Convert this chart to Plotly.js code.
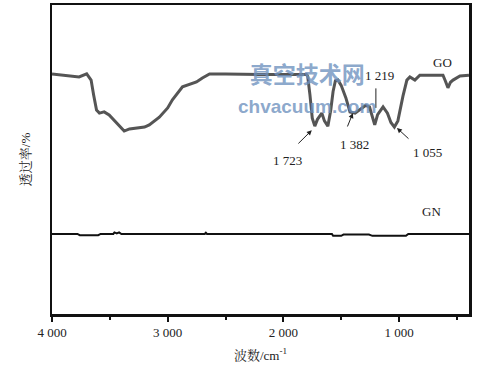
<!DOCTYPE html>
<html>
<head>
<meta charset="utf-8">
<script src="https://cdn.plot.ly/plotly-3.0.1.min.js"></script>
<style>html,body{margin:0;padding:0;background:#fff;}#chart{width:494px;height:377px;}</style>
</head>
<body>
<div id="chart"></div>
<script>
// Wavenumber (cm^-1) and transmittance (arbitrary %, offset curves)
const goX = [4000,3900,3853,3766,3700,3662,3640,3615,3590,3549,3506,3445,3400,3376,3330,3271,3200,3159,3072,3000,2959,2872,2800,2751,2700,2638,2500,2200,1800,1790,1770,1750,1728,1705,1667,1645,1615,1590,1570,1550,1528,1500,1460,1424,1380,1340,1290,1255,1235,1210,1185,1138,1100,1070,1040,1010,966,932,906,863,820,620,600,577,555,533,473,395];
const goY = [77.7,77.3,77.0,76.7,77.7,75.7,70.9,66.0,65.0,65.4,64.4,61.8,59.9,59.2,59.9,60.2,60.5,61.2,63.7,66.7,69.3,73.5,74.4,75.1,76.4,77.7,77.7,77.5,77.5,77.0,70.9,63.4,60.8,63.0,65.0,62.5,60.8,66.0,72.0,75.5,75.7,74.0,70.0,65.4,65.0,66.0,67.5,67.0,64.0,61.2,64.5,67.0,65.0,62.0,60.5,62.5,70.5,75.7,76.7,75.7,77.3,77.3,75.5,73.2,75.0,75.7,77.0,77.3];
const gnX = [4000,3780,3760,3600,3580,3470,3460,3440,3420,3400,2680,2670,2660,1580,1570,1500,1480,1260,1230,940,920,395];
const gnY = [25.9,25.9,25.5,25.5,25.9,25.9,26.4,26.1,26.4,25.9,25.9,26.3,25.9,25.9,25.3,25.3,25.7,25.7,25.3,25.3,25.9,25.9];
const tickVals = [4000,3000,2000,1000];
const tickText = ['4 000','3 000','2 000','1 000'];
const peakLabels = ['1 723','1 382','1 219','1 055'];
const seriesNames = ['GO','GN'];

const serif = 'Liberation Serif, Times New Roman, Noto Serif CJK SC, Noto Sans CJK SC, serif';

const traces = [
  {x: goX, y: goY, mode: 'lines', name: seriesNames[0], line: {color: '#555555', width: 3}},
  {x: gnX, y: gnY, mode: 'lines', name: seriesNames[1], line: {color: '#111111', width: 2}}
];

function arrow(x, y, ax, ay, head) {
  return {x: x, y: y, ax: ax, ay: ay, xref: 'x', yref: 'y', axref: 'x', ayref: 'y',
    text: '', showarrow: true, arrowhead: head, arrowsize: 1, arrowwidth: 1, arrowcolor: '#222'};
}
function label(x, y, t) {
  return {x: x, y: y, xref: 'x', yref: 'y', text: t, showarrow: false,
    font: {family: serif, size: 13, color: '#222'}};
}

const layout = {
  width: 494, height: 377,
  margin: {l: 52, r: 25, t: 5, b: 63},
  paper_bgcolor: '#fff', plot_bgcolor: '#fff',
  showlegend: false,
  font: {family: serif, size: 13, color: '#222'},
  xaxis: {
    range: [4000, 395], showgrid: false, zeroline: false,
    showline: true, mirror: true, linecolor: '#111', linewidth: 2.5,
    ticks: 'outside', ticklen: 5, tickwidth: 2, tickcolor: '#111',
    tickvals: tickVals, ticktext: tickText,
    tickfont: {family: serif, size: 13, color: '#222'},
    minor: {tickvals: [3500,2500,1500,500], ticks: 'outside', ticklen: 3, tickwidth: 2, tickcolor: '#111'},
    title: {text: '波数/cm<sup>-1</sup>', font: {family: serif, size: 13, color: '#222'}, standoff: 12}
  },
  yaxis: {
    range: [0, 100], showgrid: false, zeroline: false,
    showline: true, mirror: true, linecolor: '#111', linewidth: 2.5,
    ticks: '', showticklabels: false,
    title: {text: '透过率/%', font: {family: serif, size: 13, color: '#222'}, standoff: 16}
  },
  annotations: [
    arrow(1754, 59.5, 1883, 54.7, 2),
    arrow(1399, 65.0, 1451, 60.2, 2),
    arrow(1200, 66.7, 1200, 73.5, 0),
    arrow(1018, 60.2, 905, 56.3, 2),
    label(1961, 49.8, peakLabels[0]),
    label(1381, 54.7, peakLabels[1]),
    label(1165, 77.3, peakLabels[2]),
    label(750, 52.4, peakLabels[3]),
    label(620, 81.5, seriesNames[0]),
    label(715, 33.3, seriesNames[1]),
    {x: 0.611, y: 0.84, xref: 'paper', yref: 'paper',
      text: '<b>真空技术网</b><br><b><span style="font-family:Liberation Sans, Arial, sans-serif;font-size:19px">chvacuum.com</span></b>',
      showarrow: false, align: 'center',
      font: {family: 'Noto Sans CJK SC, sans-serif', size: 23, color: 'rgba(110,145,190,0.8)'}}
  ]
};

Plotly.newPlot('chart', traces, layout, {displayModeBar: false, staticPlot: true});
</script>
</body>
</html>
